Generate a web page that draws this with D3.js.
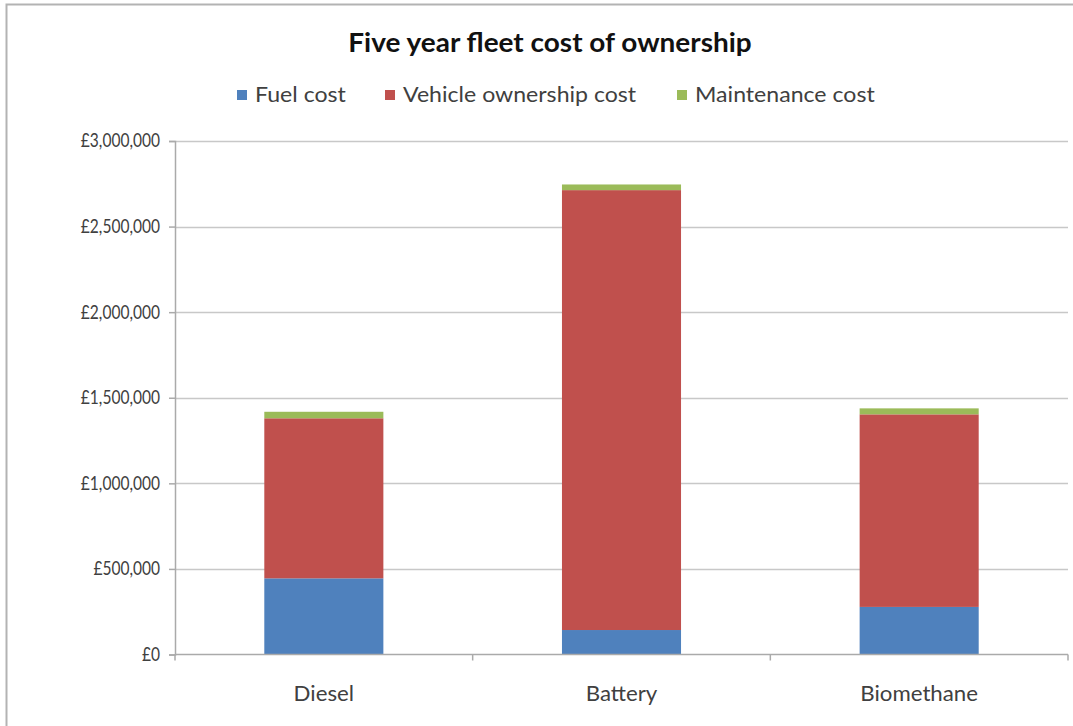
<!DOCTYPE html>
<html>
<head>
<meta charset="utf-8">
<script src="https://cdn.jsdelivr.net/npm/d3@7"></script>
<style>
  html, body { margin: 0; padding: 0; background: #ffffff; }
  svg { display: block; }
  text { font-family: "Lato", "Open Sans", sans-serif; }
</style>
</head>
<body>
<svg id="chart" width="1073" height="726"></svg>
<script>
// Five-year fleet cost of ownership, stacked by cost type
const categories = ["Diesel", "Battery", "Biomethane"];
const seriesNames = ["Fuel cost", "Vehicle ownership cost", "Maintenance cost"];
const fuelCost = [445000, 143000, 278000];
const vehicleOwnershipCost = [935000, 2570000, 1125000];
const maintenanceCost = [38000, 33000, 35000];
const yTicks = [0, 500000, 1000000, 1500000, 2000000, 2500000, 3000000];
const colors = ["#4F81BD", "#C0504D", "#9BBB59"];

const rows = categories.map((c, i) => ({
  category: c,
  "Fuel cost": fuelCost[i],
  "Vehicle ownership cost": vehicleOwnershipCost[i],
  "Maintenance cost": maintenanceCost[i]
}));

const svg = d3.select("#chart");
const W = 1073, H = 726;
const plot = { left: 175, right: 1068, top: 141, bottom: 654.5 };

// squeeze or stretch a text element horizontally
function narrow(sel, factor) {
  sel.each(function () {
    const len = this.getComputedTextLength();
    d3.select(this)
      .attr("textLength", len * factor)
      .attr("lengthAdjust", "spacingAndGlyphs");
  });
}

// outer chart frame
svg.append("rect")
  .attr("x", 6.5).attr("y", 4.5)
  .attr("width", W + 20).attr("height", H + 20)
  .attr("fill", "none")
  .attr("stroke", "#b3b3b3")
  .attr("stroke-width", 2);

const x = d3.scaleBand().domain(categories).range([plot.left, plot.right])
  .paddingInner(0.6).paddingOuter(0.3);
const y = d3.scaleLinear().domain([0, 3000000]).range([plot.bottom, plot.top]);

// gridlines
svg.append("g")
  .selectAll("line")
  .data(yTicks.slice(1))
  .join("line")
  .attr("x1", plot.left).attr("x2", plot.right)
  .attr("y1", d => Math.round(y(d)) + 0.5).attr("y2", d => Math.round(y(d)) + 0.5)
  .attr("stroke", "#c8c8c8").attr("stroke-width", 1.5);

// stacked bars
const stack = d3.stack().keys(seriesNames);
const layers = stack(rows);
svg.append("g")
  .selectAll("g")
  .data(layers)
  .join("g")
  .attr("fill", (d, i) => colors[i])
  .selectAll("rect")
  .data(d => d)
  .join("rect")
  .attr("x", d => x(d.data.category))
  .attr("width", x.bandwidth())
  .attr("y", d => y(d[1]))
  .attr("height", d => y(d[0]) - y(d[1]));

// y axis
const fmt = v => "£" + d3.format(",")(v);
const yAxis = svg.append("g")
  .attr("transform", `translate(${plot.left},0)`)
  .call(d3.axisLeft(y).tickValues(yTicks).tickFormat(fmt).tickSize(6).tickPadding(9));
yAxis.select(".domain").attr("stroke", "#aaaaaa").attr("stroke-width", 1.5);
yAxis.selectAll(".tick line").attr("stroke", "#aaaaaa").attr("stroke-width", 1.5);
yAxis.selectAll(".tick text")
  .attr("fill", "#404040")
  .style("font-size", "18.5px")
  .call(narrow, 0.84);

// x axis with boundary ticks between categories
const xAxisG = svg.append("g").attr("transform", `translate(0,${plot.bottom})`);
xAxisG.append("line")
  .attr("x1", plot.left).attr("x2", plot.right)
  .attr("stroke", "#aaaaaa").attr("stroke-width", 1.5);
const step = (plot.right - plot.left) / categories.length;
xAxisG.selectAll("line.b")
  .data(d3.range(categories.length + 1))
  .join("line")
  .attr("class", "b")
  .attr("x1", i => plot.left + i * step).attr("x2", i => plot.left + i * step)
  .attr("y1", 0).attr("y2", 6)
  .attr("stroke", "#aaaaaa").attr("stroke-width", 1.5);
xAxisG.selectAll("text")
  .data(categories)
  .join("text")
  .attr("x", d => x(d) + x.bandwidth() / 2)
  .attr("y", 46)
  .attr("text-anchor", "middle")
  .attr("fill", "#404040")
  .style("font-size", "21px")
  .text(d => d)
  .call(narrow, 1.06);

// title
svg.append("text")
  .attr("x", 550).attr("y", 52)
  .attr("text-anchor", "middle")
  .attr("fill", "#111")
  .style("font-size", "26.5px")
  .style("font-weight", "bold")
  .text("Five year fleet cost of ownership")
  .call(narrow, 1.055);

// legend
const legendItems = [
  { name: seriesNames[0], color: colors[0], x: 237 },
  { name: seriesNames[1], color: colors[1], x: 385 },
  { name: seriesNames[2], color: colors[2], x: 677 }
];
const lg = svg.append("g");
legendItems.forEach(it => {
  lg.append("rect")
    .attr("x", it.x).attr("y", 90)
    .attr("width", 10).attr("height", 10)
    .attr("fill", it.color);
  lg.append("text")
    .attr("x", it.x + 18).attr("y", 102)
    .attr("fill", "#404040")
    .style("font-size", "22px")
    .text(it.name)
    .call(narrow, 1.05);
});
</script>
</body>
</html>
